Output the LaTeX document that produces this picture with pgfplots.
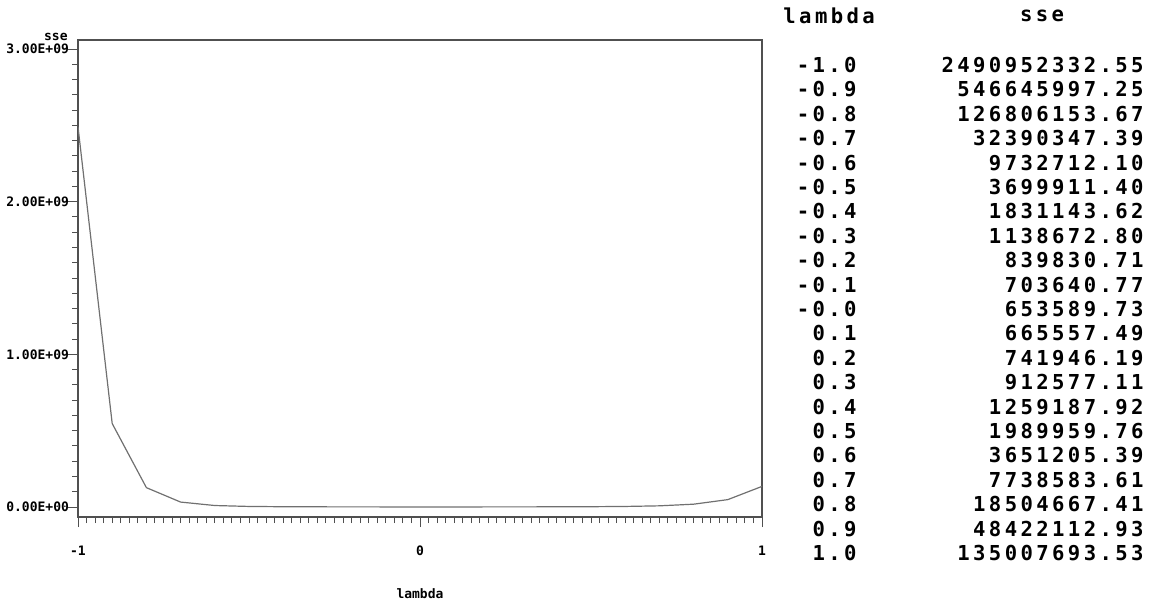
\documentclass[border=0pt]{standalone}
\usepackage{pgfplots}
\pgfplotsset{compat=1.18}
\usepackage{fontspec}
\setmainfont{DejaVu Sans}
\newfontfamily\tabfont{DejaVu Sans Mono}[LetterSpace=16.5]
\newfontfamily\tickfont{DejaVu Sans Mono}
\definecolor{lin}{HTML}{707070}
\definecolor{frm}{HTML}{505050}
\begin{document}
\begin{tikzpicture}
\path[use as bounding box] (0,0) rectangle (579pt,-300.5pt);
\begin{axis}[
  at={(39pt,-258.5pt)}, anchor=south west,
  scale only axis, width=342pt, height=238.5pt,
  xmin=-1, xmax=1, ymin=-0.0655e9, ymax=3.059e9,
  axis line style={frm, line width=0.7pt},
  xtick={-1,0,1}, xticklabels={-1,0,1},
  ytick={0,1e9,2e9,3e9}, yticklabels={0.00E+00,1.00E+09,2.00E+09,3.00E+09},
  minor x tick num=39, minor y tick num=9,
  tick align=outside, tick pos=left,
  major tick length=5pt, minor tick length=3pt,
  every tick/.style={frm, line width=0.5pt},
  tick label style={font=\tickfont\bfseries\fontsize{6.5}{7.5}\selectfont, black},
  xticklabel style={yshift=-6pt},
  yticklabel style={xshift=4pt},
  scaled y ticks=false,
  xlabel={lambda}, xlabel style={font=\tickfont\bfseries\fontsize{6.5}{7.5}\selectfont, yshift=-9.5pt},
]
\addplot[lin, line width=0.6pt] coordinates {
(-1.0,2490952332.55) (-0.9,546645997.25) (-0.8,126806153.67) (-0.7,32390347.39)
(-0.6,9732712.10) (-0.5,3699911.40) (-0.4,1831143.62) (-0.3,1138672.80)
(-0.2,839830.71) (-0.1,703640.77) (0.0,653589.73) (0.1,665557.49)
(0.2,741946.19) (0.3,912577.11) (0.4,1259187.92) (0.5,1989959.76)
(0.6,3651205.39) (0.7,7738583.61) (0.8,18504667.41) (0.9,48422112.93)
(1.0,135007693.53)};
\end{axis}
\begin{scope}[x=0.5pt,y=-0.5pt]
\node[font=\tickfont\bfseries\fontsize{6.5}{7.5}\selectfont, anchor=east, inner sep=0pt] at (68,37) {sse};
\begin{scope}[every node/.style={font=\tabfont\bfseries\fontsize{10.3}{11}\selectfont, inner sep=0pt}]
\node[anchor=west] at (783,16) {lambda};
\node at (1042,16) {sse};
\foreach \l/\s [count=\i from 0] in {-1.0/2490952332.55,-0.9/546645997.25,-0.8/126806153.67,-0.7/32390347.39,-0.6/9732712.10,-0.5/3699911.40,-0.4/1831143.62,-0.3/1138672.80,-0.2/839830.71,-0.1/703640.77,-0.0/653589.73,0.1/665557.49,0.2/741946.19,0.3/912577.11,0.4/1259187.92,0.5/1989959.76,0.6/3651205.39,0.7/7738583.61,0.8/18504667.41,0.9/48422112.93,1.0/135007693.53}{
  \node[anchor=east] at (857,65+\i*24.4) {\l};
  \node[anchor=east] at (1144,65+\i*24.4) {\s};
}
\end{scope}
\end{scope}
\end{tikzpicture}
\end{document}
